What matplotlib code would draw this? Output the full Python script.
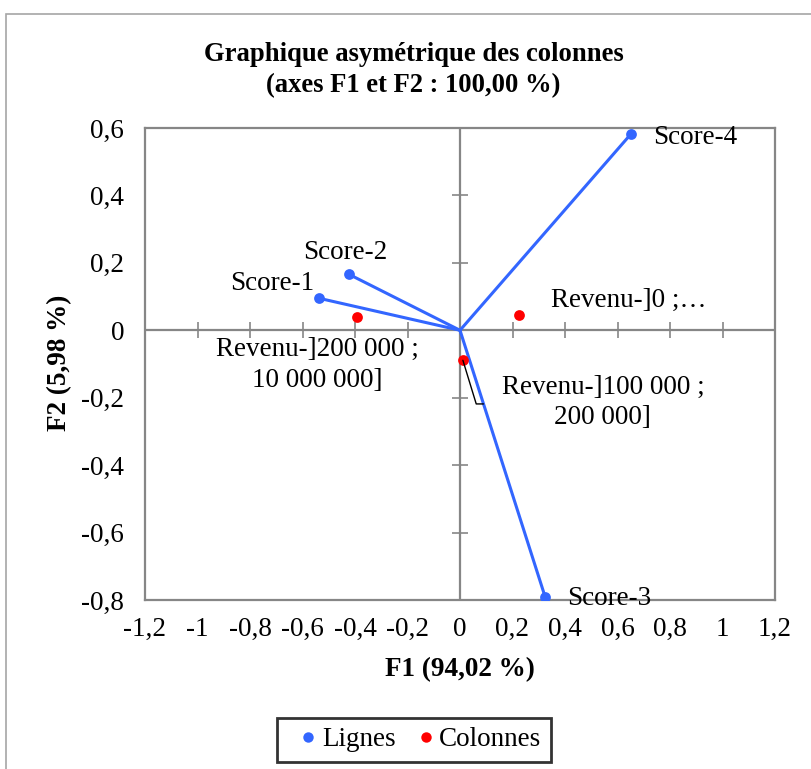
import matplotlib
matplotlib.use("Agg")
import matplotlib.pyplot as plt
from matplotlib.lines import Line2D
from matplotlib.patches import Rectangle

# ── data ───────────────────────────────────────────────────────────────────
row_labels = ["Score-1", "Score-2", "Score-3", "Score-4"]
row_f1 = [-0.537, -0.423, 0.324, 0.651]
row_f2 = [0.095, 0.166, -0.790, 0.582]

col_labels = ["Revenu-]0 ;…", "Revenu-]100 000 ;\n200 000]", "Revenu-]200 000 ;\n10 000 000]"]
col_f1 = [0.225, 0.011, -0.392]
col_f2 = [0.045, -0.089, 0.039]

xticks = [-1.2, -1.0, -0.8, -0.6, -0.4, -0.2, 0.0, 0.2, 0.4, 0.6, 0.8, 1.0, 1.2]
yticks = [-0.8, -0.6, -0.4, -0.2, 0.0, 0.2, 0.4, 0.6]

BLUE = "#3366ff"
RED = "#ff0000"
GRAY = "#868686"
FS = 19.5

plt.rcParams["font.family"] = ["Liberation Serif", "DejaVu Serif"]


def fmt(v):
    s = f"{v:.1f}".replace(".", ",")
    if s.endswith(",0"):
        s = s[:-2]
    if s == "-0":
        s = "0"
    return s


fig = plt.figure(figsize=(8.11, 7.69), dpi=100)
ax = fig.add_axes([145 / 811, 1 - 600 / 769, 630 / 811, 472 / 769])

# outer chart frame (runs off the right/bottom edge like the screenshot)
fig.patches.append(Rectangle((6 / 811, -0.05), 1.2, 1 - 14 / 769 + 0.05,
                             transform=fig.transFigure, fill=False,
                             edgecolor="#a6a6a6", linewidth=1.2))

ax.set_xlim(-1.2, 1.2)
ax.set_ylim(-0.8, 0.6)
for sp in ax.spines.values():
    sp.set_color(GRAY)
    sp.set_linewidth(1.6)
ax.set_xticks(xticks)
ax.set_yticks(yticks)
ax.set_xticklabels([fmt(v) for v in xticks])
ax.set_yticklabels([fmt(v) for v in yticks])
ax.tick_params(axis="x", length=0, labelsize=FS, pad=12)
ax.tick_params(axis="y", length=0, labelsize=FS, pad=15)

# zero axes with cross ticks
ax.axhline(0, color=GRAY, lw=1.6, zorder=1)
ax.axvline(0, color=GRAY, lw=1.6, zorder=1)
ax.plot(xticks, [0] * len(xticks), ls="none", marker="|", ms=11, mew=1.2,
        color=GRAY, zorder=1)
ax.plot([0] * len(yticks), yticks, ls="none", marker="_", ms=11, mew=1.2,
        color=GRAY, zorder=1)

# rows: vectors from origin
for x, y in zip(row_f1, row_f2):
    ax.plot([0, x], [0, y], color=BLUE, lw=2.2, zorder=3)
ax.scatter(row_f1, row_f2, s=60, color=BLUE, zorder=4, linewidths=0)
ax.scatter(col_f1, col_f2, s=60, color=RED, zorder=5, linewidths=0)

lab = dict(textcoords="offset pixels", fontsize=FS, annotation_clip=False, zorder=6)
row_offsets = [(-5, 15, "right"), (-4, 22, "center"), (22, -2, "left"), (22, -3, "left")]
for name, x, y, (dx, dy, ha) in zip(row_labels, row_f1, row_f2, row_offsets):
    ax.annotate(name, (x, y), xytext=(dx, dy), ha=ha, va="center", **lab)

ax.annotate(col_labels[0], (col_f1[0], col_f2[0]), xytext=(32, 15),
            ha="left", va="center", **lab)
ax.annotate(col_labels[2], (col_f1[2], col_f2[2]), xytext=(-40, -48),
            ha="center", va="center", multialignment="center", linespacing=1.3, **lab)
ax.annotate(col_labels[1], (col_f1[1], col_f2[1]), xytext=(140, -42),
            ha="center", va="center", multialignment="center", linespacing=1.25,
            arrowprops=dict(arrowstyle="-", color="black", lw=1.0,
                            connectionstyle="angle,angleA=0,angleB=107,rad=0",
                            shrinkA=11, shrinkB=0,
                            relpos=(0.0, 0.47)),
            **lab)

fig.text(0.510, 1 - 70 / 769, "Graphique asymétrique des colonnes\n(axes F1 et F2 : 100,00 %)",
         ha="center", va="center", fontsize=19.2, fontweight="bold", linespacing=1.3)
fig.text(460 / 811, 1 - 670 / 769, "F1 (94,02 %)", ha="center", va="center",
         fontsize=FS, fontweight="bold")
fig.text(60 / 811, 1 - 363 / 769, "F2 (5,98 %)", ha="center", va="center",
         rotation=90, fontsize=FS, fontweight="bold")

handles = [Line2D([], [], ls="none", marker="o", ms=7.5, color=BLUE, mec="none", label="Lignes"),
           Line2D([], [], ls="none", marker="o", ms=7.5, color=RED, mec="none", label="Colonnes")]
leg = fig.legend(handles=handles, loc="center", bbox_to_anchor=(414 / 811, 1 - 740 / 769),
                 ncol=2, frameon=True, fancybox=False, fontsize=FS,
                 handletextpad=-0.3, columnspacing=0.31, handlelength=1.6,
                 borderpad=0.35, borderaxespad=0)
leg.get_frame().set_edgecolor("black")
leg.get_frame().set_linewidth(2.0)

fig.savefig("out.png", dpi=100)
